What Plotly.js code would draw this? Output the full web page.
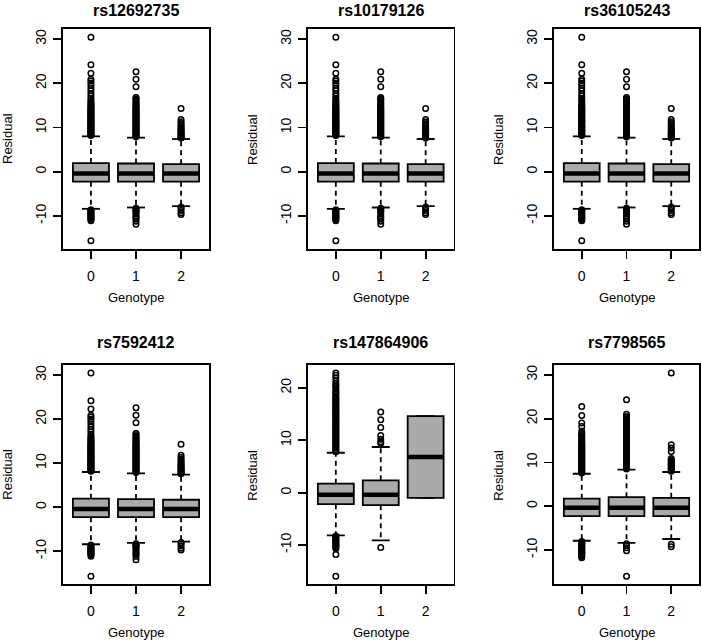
<!DOCTYPE html>
<html>
<head>
<meta charset="utf-8">
<script src="https://cdn.plot.ly/plotly-3.0.1.min.js"></script>
<style>
  html, body { margin: 0; padding: 0; background: #ffffff; }
  #chart { width: 702px; height: 643px; }
</style>
</head>
<body>
<div id="chart"></div>
<script>
// ---------------- DATA ----------------
const snpNames = ['rs12692735', 'rs10179126', 'rs36105243', 'rs7592412', 'rs147864906', 'rs7798565'];
const genotypes = [0, 1, 2];
const genotypeLabels = ['0', '1', '2'];

// rs12692735, rs10179126, rs36105243 and rs7592412 look identical in the picture
const ldQ1     = [-2.25, -2.25, -2.25];
const ldMedian = [-0.38, -0.38, -0.38];
const ldQ3     = [1.95, 1.85, 1.7];
const ldLower  = [-8.4, -8.1, -7.8];
const ldUpper  = [8.0, 7.7, 7.4];
const ldOut0 = [8.2, 8.4, 8.5, 8.7, 8.9, 9.1, 9.2, 9.4, 9.6, 9.8, 10.0, 10.1, 10.3, 10.5, 10.7, 10.9, 11.1, 11.3, 11.4, 11.6,
  11.8, 12.0, 12.2, 12.4, 12.6, 12.8, 13.0, 13.2, 13.4, 13.6, 13.8, 14.0, 14.2, 14.5, 14.7, 15.0, 15.2, 15.5, 15.8, 16.2,
  16.6, 17.2, 17.7, 18.3, 18.9, 19.5, 20.0, 20.5, 20.9, 22.3, 24.2, 30.45,
  -8.6, -8.8, -9.0, -9.2, -9.4, -9.6, -9.8, -10.0, -10.2, -10.4, -10.6, -10.8, -11.1, -15.65];
const ldOut1 = [7.9, 8.1, 8.3, 8.5, 8.7, 8.9, 9.1, 9.3, 9.5, 9.7, 9.9, 10.1, 10.3, 10.5, 10.7, 10.9, 11.1, 11.3, 11.5, 11.7,
  11.9, 12.1, 12.3, 12.5, 12.7, 12.9, 13.1, 13.3, 13.5, 13.7, 13.9, 14.1, 14.3, 14.5, 14.8, 15.0, 15.3, 15.6, 15.9, 16.2,
  16.5, 16.8, 19.2, 20.9, 22.6,
  -8.3, -8.5, -8.7, -8.9, -9.2, -9.6, -10.0, -10.4, -10.7, -11.2, -11.9];
const ldOut2 = [7.6, 7.8, 8.0, 8.2, 8.4, 8.6, 8.8, 9.0, 9.3, 9.6, 9.9, 10.2, 10.5, 10.9, 11.3, 11.8, 14.3,
  -8.0, -8.3, -8.8, -9.3, -9.7];

// rs147864906
const p5Q1     = [-2.2, -2.4, -1.0];
const p5Median = [-0.4, -0.4, 6.8];
const p5Q3     = [1.7, 2.35, 14.6];
const p5Lower  = [-8.15, -9.1, -1.0];
const p5Upper  = [7.6, 8.7, 14.6];
const p5Out0 = [7.8, 8.0, 8.2, 8.5, 8.7, 8.9, 9.2, 9.4, 9.6, 9.9, 10.1, 10.3, 10.6, 10.8, 11.0, 11.3, 11.5, 11.7, 12.0, 12.2,
  12.4, 12.7, 12.9, 13.1, 13.4, 13.6, 13.8, 14.1, 14.3, 14.5, 14.8, 15.0, 15.2, 15.5, 15.7, 15.9, 16.2, 16.4, 16.7, 16.9,
  17.2, 17.4, 17.7, 17.9, 18.2, 18.5, 18.8, 19.1, 19.4, 19.8, 20.2, 20.5, 20.8, 21.3, 21.9, 22.4, 22.8,
  -8.3, -8.5, -8.7, -8.9, -9.1, -9.3, -9.5, -9.7, -9.9, -10.1, -10.3, -10.5, -10.7, -11.8, -15.95];
const p5Out1 = [9.4, 9.7, 10.2, 10.9, 12.4, 13.9, 15.4, -10.5];
const p5Out2 = [];

// rs7798565
const p6Q1     = [-2.3, -2.3, -2.3];
const p6Median = [-0.37, -0.37, -0.37];
const p6Q3     = [1.7, 2.05, 1.9];
const p6Lower  = [-7.9, -8.4, -7.5];
const p6Upper  = [7.4, 8.35, 7.8];
const p6Out0 = [7.6, 7.8, 8.0, 8.2, 8.4, 8.6, 8.8, 9.0, 9.2, 9.4, 9.6, 9.8, 10.0, 10.2, 10.4, 10.6, 10.8, 11.0, 11.2, 11.4,
  11.6, 11.8, 12.0, 12.2, 12.4, 12.6, 12.8, 13.0, 13.2, 13.4, 13.6, 13.8, 14.0, 14.3, 14.6, 14.9, 15.2, 15.5, 15.8, 16.1,
  16.4, 16.7, 17.1, 18.2, 19.0, 20.7, 22.8,
  -8.1, -8.3, -8.5, -8.7, -8.9, -9.1, -9.3, -9.5, -9.7, -9.9, -10.1, -10.3, -10.5, -10.7, -10.9, -11.1, -11.3, -11.5, -11.8];
const p6Out1 = [8.5, 8.7, 8.9, 9.1, 9.3, 9.5, 9.7, 9.9, 10.1, 10.3, 10.5, 10.7, 10.9, 11.1, 11.3, 11.5, 11.7, 11.9, 12.1, 12.3,
  12.5, 12.7, 12.9, 13.1, 13.3, 13.5, 13.7, 13.9, 14.1, 14.3, 14.5, 14.7, 14.9, 15.1, 15.3, 15.5, 15.8, 16.4, 16.6, 16.8,
  17.0, 17.2, 17.4, 17.6, 17.8, 18.0, 18.2, 18.4, 18.6, 18.8, 19.0, 19.3, 19.6, 19.9, 20.2, 20.5, 21.0, 24.3,
  -8.6, -9.0, -9.5, -10.2, -16.0];
const p6Out2 = [8.0, 8.2, 8.4, 8.6, 8.8, 9.0, 9.2, 9.4, 9.6, 9.8, 10.0, 10.2, 10.4, 10.6, 10.9, 12.5, 13.3, 14.05, 30.4,
  -8.7, -9.3];

// ---------------- STYLE / LAYOUT CONSTANTS ----------------
const W = 702, H = 643;
const FONT = 'Liberation Sans, Arial, Helvetica, sans-serif';
const BOX_FILL = '#aaaaaa';
const BOX_WEX = 0.8;          // box width in group units
const STAPLE_WEX = 0.5;       // staple width relative to box
const Y_STEP = 10;
// plot-region rectangles in pixels
const colL = [63, 308, 554], colR = [209, 453.5, 699];
const rowT = [29, 365], rowB = [249, 584.3];
const titleY = [10, 342];

const panels = [
  { q1: ldQ1, med: ldMedian, q3: ldQ3, lo: ldLower, hi: ldUpper, out: [ldOut0, ldOut1, ldOut2] },
  { q1: ldQ1, med: ldMedian, q3: ldQ3, lo: ldLower, hi: ldUpper, out: [ldOut0, ldOut1, ldOut2] },
  { q1: ldQ1, med: ldMedian, q3: ldQ3, lo: ldLower, hi: ldUpper, out: [ldOut0, ldOut1, ldOut2] },
  { q1: ldQ1, med: ldMedian, q3: ldQ3, lo: ldLower, hi: ldUpper, out: [ldOut0, ldOut1, ldOut2] },
  { q1: p5Q1, med: p5Median, q3: p5Q3, lo: p5Lower, hi: p5Upper, out: [p5Out0, p5Out1, p5Out2] },
  { q1: p6Q1, med: p6Median, q3: p6Q3, lo: p6Lower, hi: p6Upper, out: [p6Out0, p6Out1, p6Out2] }
];

const traces = [];
const layout = {
  width: W, height: H,
  margin: { l: 0, r: 0, t: 0, b: 0 },
  paper_bgcolor: '#ffffff', plot_bgcolor: '#ffffff',
  showlegend: false,
  font: { family: FONT, size: 13, color: '#000000' },
  annotations: []
};

panels.forEach((p, i) => {
  const n = i + 1;
  const xa = 'x' + (n === 1 ? '' : n), ya = 'y' + (n === 1 ? '' : n);
  const row = Math.floor(i / 3);
  const L = colL[i % 3], R = colR[i % 3], T = rowT[row], B = rowB[row];

  // data range like R (4% extension)
  const allVals = [].concat(p.lo, p.hi, p.q1, p.q3, ...p.out);
  const mn = Math.min(...allVals), mx = Math.max(...allVals);
  const ext = 0.04 * (mx - mn);
  const yr = [mn - ext, mx + ext];
  const xr = [genotypes[0] - 0.5, genotypes[genotypes.length - 1] + 0.5];
  const xext = 0.04 * (xr[1] - xr[0]);

  // y tick values (multiples of Y_STEP inside range), labelled with a plain hyphen like R
  const yt = [];
  for (let v = Math.ceil(yr[0] / Y_STEP) * Y_STEP; v <= yr[1]; v += Y_STEP) yt.push(v);
  const ytText = yt.map(v => String(v));

  // boxes
  traces.push({
    type: 'box', xaxis: xa, yaxis: ya, orientation: 'v',
    x: genotypes, q1: p.q1, median: p.med, q3: p.q3,
    lowerfence: p.q1, upperfence: p.q3,
    width: BOX_WEX, whiskerwidth: 0, boxpoints: false,
    fillcolor: BOX_FILL, line: { color: '#000000', width: 1.8 },
    hoverinfo: 'skip'
  });

  // dashed whiskers
  const wx = [], wy = [];
  genotypes.forEach((g, k) => {
    if (p.hi[k] > p.q3[k]) { wx.push(g, g, null); wy.push(p.q3[k], p.hi[k], null); }
    if (p.lo[k] < p.q1[k]) { wx.push(g, g, null); wy.push(p.q1[k], p.lo[k], null); }
  });
  traces.push({ type: 'scatter', mode: 'lines', xaxis: xa, yaxis: ya, x: wx, y: wy,
    line: { color: '#000000', width: 1.8, dash: '5px,4px' }, hoverinfo: 'skip' });

  // staples
  const sx = [], sy = [];
  const hs = BOX_WEX * STAPLE_WEX / 2;
  genotypes.forEach((g, k) => {
    sx.push(g - hs, g + hs, null, g - hs, g + hs, null);
    sy.push(p.hi[k], p.hi[k], null, p.lo[k], p.lo[k], null);
  });
  traces.push({ type: 'scatter', mode: 'lines', xaxis: xa, yaxis: ya, x: sx, y: sy,
    line: { color: '#000000', width: 1.8 }, hoverinfo: 'skip' });

  // thick medians
  const mxs = [], mys = [];
  genotypes.forEach((g, k) => {
    mxs.push(g - BOX_WEX / 2, g + BOX_WEX / 2, null);
    mys.push(p.med[k], p.med[k], null);
  });
  traces.push({ type: 'scatter', mode: 'lines', xaxis: xa, yaxis: ya, x: mxs, y: mys,
    line: { color: '#000000', width: 4.5 }, hoverinfo: 'skip' });

  // outliers
  const ox = [], oy = [];
  genotypes.forEach((g, k) => { p.out[k].forEach(v => { ox.push(g); oy.push(v); }); });
  traces.push({ type: 'scatter', mode: 'markers', xaxis: xa, yaxis: ya, x: ox, y: oy,
    marker: { symbol: 'circle-open', size: 5.5, color: '#000000', line: { width: 1.5, color: '#000000' } },
    hoverinfo: 'skip' });

  const axCommon = {
    showline: true, mirror: true, linecolor: '#000000', linewidth: 1.8,
    ticks: 'outside', ticklen: 8, tickwidth: 1.8, tickcolor: '#000000',
    showgrid: false, zeroline: false, fixedrange: true,
    tickfont: { family: FONT, size: 14, color: '#000000' }
  };
  layout['xaxis' + (n === 1 ? '' : n)] = Object.assign({}, axCommon, {
    domain: [L / W, R / W], anchor: ya,
    range: [xr[0] - xext, xr[1] + xext],
    tickmode: 'array', tickvals: genotypes, ticktext: genotypeLabels,
    ticklabelstandoff: 5
  });
  layout['yaxis' + (n === 1 ? '' : n)] = Object.assign({}, axCommon, {
    domain: [1 - B / H, 1 - T / H], anchor: xa,
    range: yr,
    tickmode: 'array', tickvals: yt, ticktext: ytText, tickangle: -90,
    ticklabelstandoff: 2
  });

  const cx = (L + R) / 2;
  layout.annotations.push(
    { text: '<b>' + snpNames[i] + '</b>', xref: 'paper', yref: 'paper',
      x: cx / W, y: 1 - titleY[row] / H, xanchor: 'center', yanchor: 'middle', showarrow: false,
      font: { family: FONT, size: 16, color: '#000000' } },
    { text: 'Genotype', xref: 'paper', yref: 'paper',
      x: cx / W, y: 1 - (B + 48.5) / H, xanchor: 'center', yanchor: 'middle', showarrow: false,
      font: { family: FONT, size: 13, color: '#000000' } },
    { text: 'Residual', xref: 'paper', yref: 'paper', textangle: -90,
      x: (L - 55) / W, y: 1 - ((T + B) / 2) / H, xanchor: 'center', yanchor: 'middle', showarrow: false,
      font: { family: FONT, size: 13, color: '#000000' } }
  );
});

Plotly.newPlot('chart', traces, layout, { displayModeBar: false, staticPlot: true });
</script>
</body>
</html>
